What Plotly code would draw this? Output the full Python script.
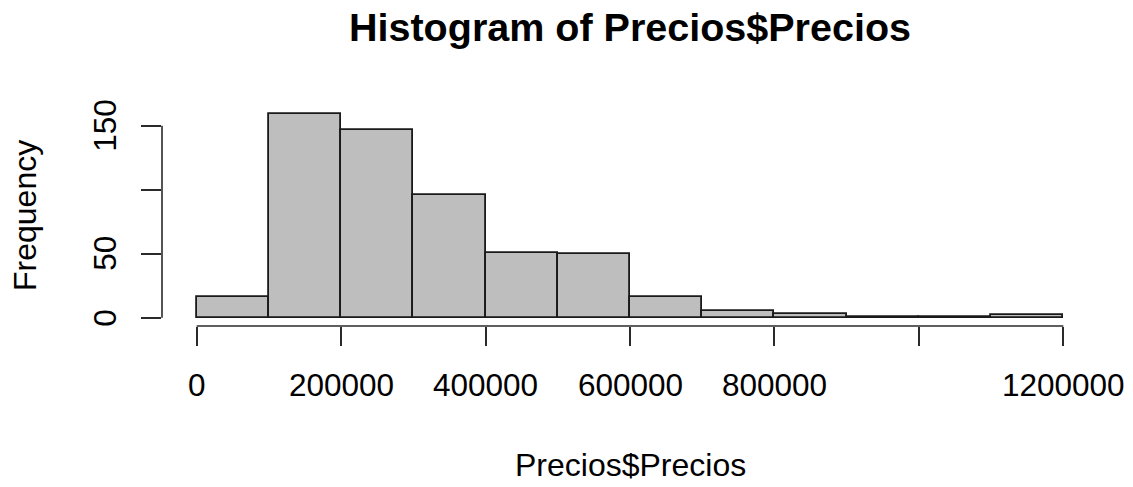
import numpy as np
import plotly.graph_objects as go

# ---- data ----
bin_edges = [0, 100000, 200000, 300000, 400000, 500000, 600000,
             700000, 800000, 900000, 1000000, 1100000, 1200000]
counts = [16, 159, 147, 96, 51, 50, 16, 5, 3, 1, 1, 2]
x_tickvals = [0, 200000, 400000, 600000, 800000, 1000000, 1200000]
x_ticktext = ["0", "200000", "400000", "600000", "800000", "", "1200000"]
y_tickvals = [0, 50, 100, 150]
y_ticktext = ["0", "50", "", "150"]
title_text = "Histogram of Precios$Precios"
xlabel_text = "Precios$Precios"
ylabel_text = "Frequency"

edges = np.array(bin_edges, dtype=float)
centers = (edges[:-1] + edges[1:]) / 2
widths = np.diff(edges)

FONT = "Liberation Sans, Arial, Helvetica, sans-serif"
AXCOL = "#2a2a2a"

fig = go.Figure()
fig.add_trace(go.Bar(
    x=centers, y=counts, width=widths,
    marker=dict(color="#BEBEBE", line=dict(color="#1a1a1a", width=1.8)),
    hoverinfo="x+y", showlegend=False,
))

# R-style range extension (4%)
xmin, xmax = edges[0], edges[-1]
xr = xmax - xmin
ymax = max(counts)

fig.update_layout(
    width=1133, height=487,
    margin=dict(l=162, r=35, t=105.5, b=160.5, pad=0),
    paper_bgcolor="white", plot_bgcolor="white",
    bargap=0,
    xaxis=dict(range=[xmin - 0.04 * xr, xmax + 0.04 * xr],
               showgrid=False, zeroline=False, showline=False,
               tickvals=x_tickvals, ticks="outside", ticklen=19,
               tickwidth=1.6, tickcolor=AXCOL, showticklabels=False),
    yaxis=dict(range=[-0.04 * ymax, ymax * 1.04],
               showgrid=False, zeroline=False, showline=False,
               tickvals=y_tickvals, ticks="outside", ticklen=20,
               tickwidth=1.6, tickcolor=AXCOL, showticklabels=False),
    font=dict(family=FONT, color="black"),
)

# axis lines spanning only the tick range (R style)
fig.add_shape(type="line", xref="x", yref="paper",
              x0=x_tickvals[0], x1=x_tickvals[-1], y0=0, y1=0,
              line=dict(color=AXCOL, width=1.6))
fig.add_shape(type="line", xref="paper", yref="y",
              x0=0, x1=0, y0=y_tickvals[0], y1=y_tickvals[-1],
              line=dict(color=AXCOL, width=1.6))

# tick labels
for v, t in zip(x_tickvals, x_ticktext):
    if t:
        fig.add_annotation(x=v, xref="x", y=0, yref="paper", text=t,
                           showarrow=False, xanchor="center", yanchor="middle",
                           yshift=-58.5, font=dict(size=31.5, family=FONT))
for v, t in zip(y_tickvals, y_ticktext):
    if t:
        fig.add_annotation(x=0, xref="paper", y=v, yref="y", text=t,
                           showarrow=False, xanchor="center", yanchor="middle",
                           xshift=-57, textangle=-90,
                           font=dict(size=31.5, family=FONT))

# titles
fig.add_annotation(x=0.5, xref="paper", y=1, yref="paper", text="<b>" + title_text + "</b>",
                   showarrow=False, xanchor="center", yanchor="middle",
                   yshift=(105.5 - 26.3), font=dict(size=39.5, family=FONT))
fig.add_annotation(x=0.5, xref="paper", y=0, yref="paper", text=xlabel_text,
                   showarrow=False, xanchor="center", yanchor="middle",
                   yshift=-(465.6 - 326.5), font=dict(size=32, family=FONT))
fig.add_annotation(x=0, xref="paper", y=0.5, yref="paper", text=ylabel_text,
                   showarrow=False, xanchor="center", yanchor="middle",
                   xshift=-(162 - 25), textangle=-90,
                   font=dict(size=32, family=FONT))

fig.write_html("out.html",
               config={"displayModeBar": False},
               post_script="document.body.style.margin='0';document.body.style.padding='0';document.body.style.overflow='hidden';")
